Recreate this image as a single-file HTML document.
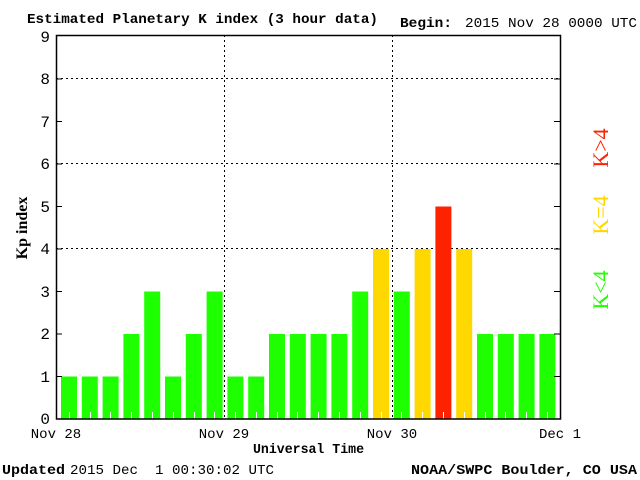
<!DOCTYPE html>
<html><head><meta charset="utf-8"><style>
body{margin:0;background:#fff;}
svg{display:block}
</style></head><body>
<svg width="640" height="480" xmlns="http://www.w3.org/2000/svg" font-family="Liberation Mono, monospace">
<rect width="640" height="480" fill="#fff"/>
<text x="27" y="23" font-weight="bold" font-size="14" textLength="351" lengthAdjust="spacingAndGlyphs">Estimated Planetary K index (3 hour data)</text>
<text x="400" y="27" font-weight="bold" font-size="14" textLength="52" lengthAdjust="spacingAndGlyphs">Begin:</text>
<text x="465" y="27" font-size="14" textLength="172" lengthAdjust="spacingAndGlyphs">2015 Nov 28 0000 UTC</text>
<g stroke="#000" stroke-dasharray="2,3" stroke-width="1">
<line x1="56" y1="78.5" x2="560" y2="78.5"/>
<line x1="56" y1="163.5" x2="560" y2="163.5"/>
<line x1="56" y1="248.5" x2="560" y2="248.5"/>
<line x1="224.5" y1="35" x2="224.5" y2="419"/>
<line x1="392.5" y1="35" x2="392.5" y2="419"/>
</g>
<g>
<rect x="61" y="376.5" width="16" height="42.5" fill="#1eff00"/>
<rect x="81.8" y="376.5" width="16" height="42.5" fill="#1eff00"/>
<rect x="102.6" y="376.5" width="16" height="42.5" fill="#1eff00"/>
<rect x="123.4" y="334" width="16" height="85" fill="#1eff00"/>
<rect x="144.2" y="291.5" width="16" height="127.5" fill="#1eff00"/>
<rect x="165" y="376.5" width="16" height="42.5" fill="#1eff00"/>
<rect x="185.8" y="334" width="16" height="85" fill="#1eff00"/>
<rect x="206.6" y="291.5" width="16" height="127.5" fill="#1eff00"/>
<rect x="227.4" y="376.5" width="16" height="42.5" fill="#1eff00"/>
<rect x="248.2" y="376.5" width="16" height="42.5" fill="#1eff00"/>
<rect x="269" y="334" width="16" height="85" fill="#1eff00"/>
<rect x="289.8" y="334" width="16" height="85" fill="#1eff00"/>
<rect x="310.6" y="334" width="16" height="85" fill="#1eff00"/>
<rect x="331.4" y="334" width="16" height="85" fill="#1eff00"/>
<rect x="352.2" y="291.5" width="16" height="127.5" fill="#1eff00"/>
<rect x="373" y="249" width="16" height="170" fill="#ffd800"/>
<rect x="393.8" y="291.5" width="16" height="127.5" fill="#1eff00"/>
<rect x="414.6" y="249" width="16" height="170" fill="#ffd800"/>
<rect x="435.4" y="206.5" width="16" height="212.5" fill="#ff2200"/>
<rect x="456.2" y="249" width="16" height="170" fill="#ffd800"/>
<rect x="477" y="334" width="16" height="85" fill="#1eff00"/>
<rect x="497.8" y="334" width="16" height="85" fill="#1eff00"/>
<rect x="518.6" y="334" width="16" height="85" fill="#1eff00"/>
<rect x="539.4" y="334" width="16" height="85" fill="#1eff00"/>
</g>
<g stroke="#fff" stroke-width="1">
<path d="M69.5 412V419M90.5 412V419M110.5 412V419M131.5 412V419M152.5 412V419M173.5 412V419M194.5 412V419M214.5 412V419M235.5 412V419M256.5 412V419M277.5 412V419M297.5 412V419M318.5 412V419M339.5 412V419M360.5 412V419M381.5 412V419M401.5 412V419M422.5 412V419M443.5 412V419M464.5 412V419M485.5 412V419M505.5 412V419M526.5 412V419M547.5 412V419"/>
</g>
<g stroke="#000" stroke-width="1">
<path d="M56 376.5h6M56 334h6M56 291.5h6M56 249h6M56 206.5h6M56 164h6M56 121.5h6M56 79h6M554 376.5h6M554 334h6M554 291.5h6M554 249h6M554 206.5h6M554 164h6M554 121.5h6M554 79h6"/>
</g>
<rect x="56.5" y="35.5" width="504" height="383.5" fill="none" stroke="#000" stroke-width="1.5"/>
<g font-size="16" text-anchor="end" fill="#000">
<text x="50" y="424">0</text><text x="50" y="382">1</text><text x="50" y="339">2</text><text x="50" y="297">3</text><text x="50" y="254">4</text><text x="50" y="212">5</text><text x="50" y="169">6</text><text x="50" y="127">7</text><text x="50" y="84">8</text><text x="50" y="42">9</text>
</g>
<g font-size="14" text-anchor="middle">
<text x="56" y="438">Nov 28</text><text x="224" y="438">Nov 29</text><text x="392" y="438">Nov 30</text><text x="560" y="438">Dec 1</text>
</g>
<text x="253" y="453" font-weight="bold" font-size="14" textLength="111" lengthAdjust="spacingAndGlyphs">Universal Time</text>
<text transform="translate(27,228) rotate(-90)" text-anchor="middle" font-family="Liberation Serif, serif" font-weight="bold" font-size="16">Kp index</text>
<g font-family="Liberation Serif, serif" font-size="22" text-anchor="middle">
<text transform="translate(608,148) rotate(-90)" fill="#ff2200">K&gt;4</text>
<text transform="translate(608,215) rotate(-90)" fill="#ffd700">K=4</text>
<text transform="translate(608,290) rotate(-90)" fill="#22ff00">K&lt;4</text>
</g>
<text x="2" y="474" font-weight="bold" font-size="14" textLength="63" lengthAdjust="spacingAndGlyphs">Updated</text>
<text x="70" y="474" font-size="14" textLength="204" lengthAdjust="spacingAndGlyphs" xml:space="preserve">2015 Dec  1 00:30:02 UTC</text>
<text x="411" y="474" font-weight="bold" font-size="14" textLength="226" lengthAdjust="spacingAndGlyphs">NOAA/SWPC Boulder, CO USA</text>
</svg>
</body></html>
